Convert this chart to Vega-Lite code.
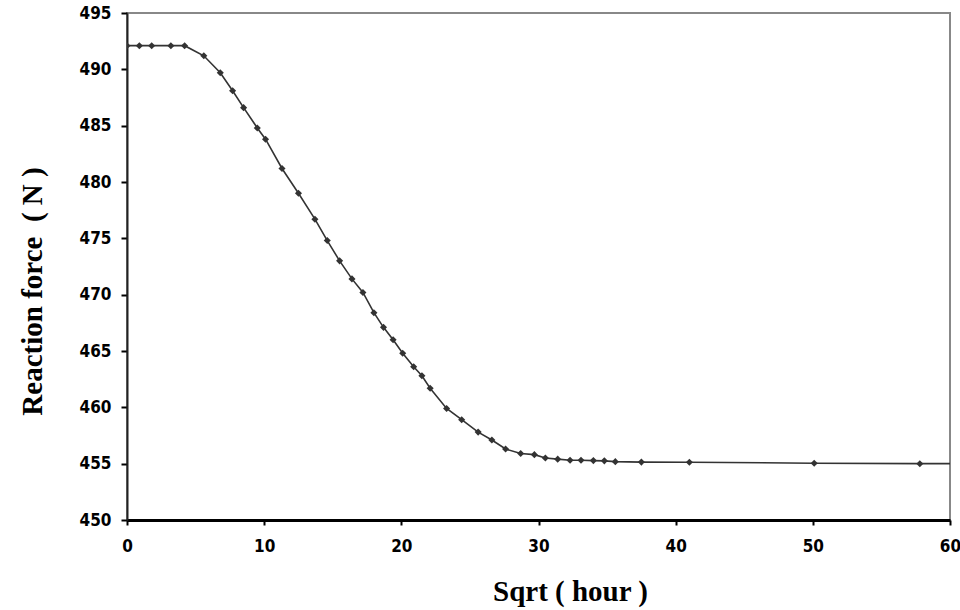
{
  "$schema": "https://vega.github.io/schema/vega-lite/v6.json",
  "width": 823,
  "height": 507,
  "autosize": {"type": "none"},
  "padding": {"left": 127, "top": 13, "right": 10, "bottom": 90},
  "background": "white",
  "config": {
    "view": {"stroke": "#888888", "strokeWidth": 2},
    "axis": {"grid": false}
  },
  "data": {
    "values": [
      {"x": 0, "y": 492.1},
      {"x": 0.9, "y": 492.1},
      {"x": 1.8, "y": 492.1},
      {"x": 3.2, "y": 492.1},
      {"x": 4.2, "y": 492.1},
      {"x": 5.6, "y": 491.2},
      {"x": 6.8, "y": 489.7},
      {"x": 7.7, "y": 488.1},
      {"x": 8.5, "y": 486.6},
      {"x": 9.5, "y": 484.8},
      {"x": 10.1, "y": 483.8},
      {"x": 11.3, "y": 481.2},
      {"x": 12.5, "y": 479.0},
      {"x": 13.7, "y": 476.7},
      {"x": 14.6, "y": 474.8},
      {"x": 15.5, "y": 473.0},
      {"x": 16.4, "y": 471.4},
      {"x": 17.2, "y": 470.2},
      {"x": 18.0, "y": 468.4},
      {"x": 18.7, "y": 467.1},
      {"x": 19.4, "y": 466.0},
      {"x": 20.1, "y": 464.8},
      {"x": 20.9, "y": 463.6},
      {"x": 21.5, "y": 462.8},
      {"x": 22.1, "y": 461.7},
      {"x": 23.3, "y": 459.9},
      {"x": 24.4, "y": 458.9},
      {"x": 25.6, "y": 457.8},
      {"x": 26.6, "y": 457.1},
      {"x": 27.6, "y": 456.3},
      {"x": 28.7, "y": 455.9},
      {"x": 29.7, "y": 455.8},
      {"x": 30.5, "y": 455.5},
      {"x": 31.4, "y": 455.4},
      {"x": 32.3, "y": 455.3},
      {"x": 33.1, "y": 455.3},
      {"x": 34.0, "y": 455.27},
      {"x": 34.8, "y": 455.25},
      {"x": 35.6, "y": 455.18},
      {"x": 37.5, "y": 455.14},
      {"x": 41.0, "y": 455.13},
      {"x": 50.1, "y": 455.04},
      {"x": 57.8, "y": 455.0},
      {"x": 61.0, "y": 455.0}
    ]
  },
  "mark": {
    "type": "line",
    "clip": true,
    "color": "#333333",
    "strokeWidth": 1.6,
    "point": {"shape": "diamond", "size": 50, "filled": true, "color": "#333333"}
  },
  "encoding": {
    "x": {
      "field": "x",
      "type": "quantitative",
      "scale": {"domain": [0, 60], "nice": false, "zero": false},
      "axis": {
        "values": [0, 10, 20, 30, 40, 50, 60],
        "title": "Sqrt ( hour )",
        "titleFont": "Liberation Serif",
        "titleFontSize": 29,
        "titleFontWeight": "bold",
        "titleColor": "black",
        "titleX": 443,
        "titleY": 80,
        "titleBaseline": "alphabetic",
        "titleAlign": "center",
        "domainColor": "black",
        "domainWidth": 3,
        "tickColor": "black",
        "tickWidth": 2,
        "tickSize": 5,
        "labelFont": "DejaVu Sans Condensed",
        "labelFontWeight": "bold",
        "labelFontSize": 17,
        "labelColor": "black",
        "labelPadding": 13,
        "labelFlush": false
      }
    },
    "y": {
      "field": "y",
      "type": "quantitative",
      "scale": {"domain": [450, 495], "nice": false, "zero": false},
      "axis": {
        "values": [450, 455, 460, 465, 470, 475, 480, 485, 490, 495],
        "title": "Reaction force\u00a0\u00a0(\u00a0N\u00a0)",
        "titleFont": "Liberation Serif",
        "titleFontSize": 29,
        "titleFontWeight": "bold",
        "titleColor": "black",
        "titleAngle": 270,
        "titleX": -86,
        "titleY": 278,
        "titleBaseline": "alphabetic",
        "titleAlign": "center",
        "domainColor": "#222222",
        "domainWidth": 2,
        "tickColor": "black",
        "tickWidth": 2,
        "tickSize": 6,
        "labelFont": "DejaVu Sans Condensed",
        "labelFontWeight": "bold",
        "labelFontSize": 17,
        "labelColor": "black",
        "labelPadding": 10,
        "labelFlush": false
      }
    }
  }
}
